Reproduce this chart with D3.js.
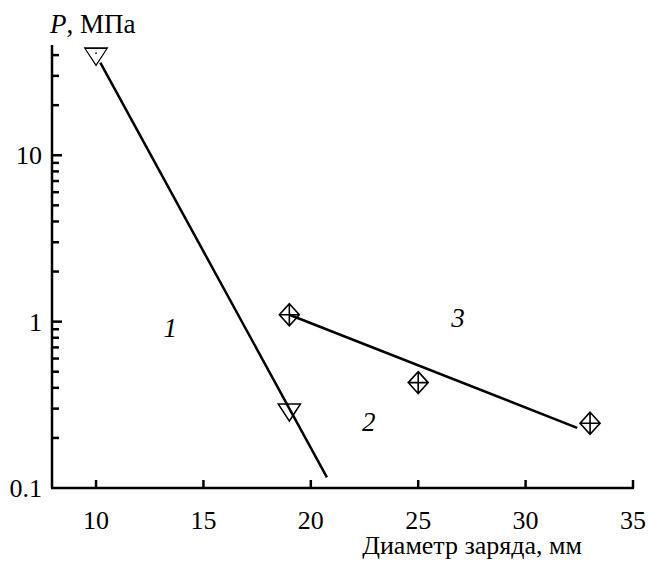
<!DOCTYPE html>
<html>
<head>
<meta charset="utf-8">
<script src="https://cdn.jsdelivr.net/npm/d3@7"></script>
<style>
  body { margin: 0; background: #fff; }
</style>
</head>
<body>
<div id="chart"></div>
<script>
// данные
const xTicks = [10, 15, 20, 25, 30, 35];
const yMajor = [0.1, 1, 10];
const yMinor = [0.2, 0.3, 0.4, 0.5, 0.6, 0.7, 0.8, 0.9, 2, 3, 4, 5, 6, 7, 8, 9, 20, 30, 40];

// серия 1 (треугольники)
const s1X = [10, 19];
const s1Y = [40, 0.29];
const line1X = [10.2, 20.75];
const line1Y = [36, 0.116];

// серия 3 (ромбы)
const s3X = [19, 25, 33];
const s3Y = [1.1, 0.43, 0.245];
const line3X = [19, 32.4];
const line3Y = [1.1, 0.23];

const curveLabels = [
    { text: "1", x: 13.45, y: 0.81 },
    { text: "2", x: 22.7, y: 0.22 },
    { text: "3", x: 26.85, y: 0.93 }
];

const FONT = "Liberation Serif";

function drawChart() {
    d3.select("#chart").selectAll("*").remove();

    let width = 648, height = 561;
    let margin = { top: 45, right: 15, bottom: 73, left: 52 };

    let svg = d3.select("#chart").append("svg")
        .attr("width", width)
        .attr("height", height);

    let x = d3.scaleLinear().domain([7.95, 35]).range([margin.left, 633]);
    let y = d3.scaleLog().domain([0.1, 46]).range([488, margin.top]);

    // оси
    svg.append("line")
        .attr("x1", margin.left).attr("x2", margin.left)
        .attr("y1", y(46)).attr("y2", 488)
        .attr("stroke", "#000").attr("stroke-width", 2.5);
    svg.append("line")
        .attr("x1", margin.left - 1).attr("x2", x(35) + 1)
        .attr("y1", 488).attr("y2", 488)
        .attr("stroke", "#000").attr("stroke-width", 2.5);

    // деления по X
    svg.selectAll(".xtick").data(xTicks).enter().append("line")
        .attr("x1", d => x(d)).attr("x2", d => x(d))
        .attr("y1", 488).attr("y2", 480)
        .attr("stroke", "#000").attr("stroke-width", 2.5);
    svg.selectAll(".xlab").data(xTicks).enter().append("text")
        .attr("x", d => x(d)).attr("y", 529)
        .attr("text-anchor", "middle")
        .attr("font-family", FONT)
        .attr("font-size", 26)
        .text(d => d);

    // деления по Y
    svg.selectAll(".ymaj").data(yMajor.slice(1)).enter().append("line")
        .attr("x1", margin.left).attr("x2", margin.left + 10)
        .attr("y1", d => y(d)).attr("y2", d => y(d))
        .attr("stroke", "#000").attr("stroke-width", 2.5);
    svg.selectAll(".ymin").data(yMinor).enter().append("line")
        .attr("x1", margin.left).attr("x2", margin.left + 7)
        .attr("y1", d => y(d)).attr("y2", d => y(d))
        .attr("stroke", "#000").attr("stroke-width", 2.5);
    svg.selectAll(".ylab").data(yMajor).enter().append("text")
        .attr("x", 42).attr("y", d => y(d) + 9)
        .attr("text-anchor", "end")
        .attr("font-family", FONT)
        .attr("font-size", 26)
        .text(d => d);

    // подписи осей
    let yt = svg.append("text").attr("x", 50).attr("y", 33)
        .attr("font-family", FONT).attr("font-size", 27);
    yt.append("tspan").attr("font-style", "italic").text("P");
    yt.append("tspan").text(", МПа");

    svg.append("text")
        .attr("x", 582).attr("y", 554)
        .attr("text-anchor", "end")
        .attr("font-family", FONT)
        .attr("font-size", 26)
        .text("Диаметр заряда, мм");

    // линии
    let line = d3.line().x(d => x(d[0])).y(d => y(d[1]));
    svg.append("path")
        .datum(line1X.map((v, i) => [v, line1Y[i]]))
        .attr("d", line).attr("fill", "none")
        .attr("stroke", "#000").attr("stroke-width", 2.5);
    svg.append("path")
        .datum(line3X.map((v, i) => [v, line3Y[i]]))
        .attr("d", line).attr("fill", "none")
        .attr("stroke", "#000").attr("stroke-width", 2.5);

    // треугольники
    let tri = svg.selectAll(".tri").data(s1X.map((v, i) => [v, s1Y[i]])).enter().append("g")
        .attr("transform", d => `translate(${x(d[0])},${y(d[1])})`);
    tri.append("path")
        .attr("d", "M-11,-7 L11,-7 L0,10 Z")
        .attr("fill", "none").attr("stroke", "#000").attr("stroke-width", 1.6);
    tri.filter((d, i) => i === 0).append("path")
        .attr("d", "M-10,-6 L10,-6 L0,9 Z").attr("fill", "#fff");
    tri.filter((d, i) => i === 0).append("circle")
        .attr("r", 0.9).attr("cy", -2).attr("fill", "#000");

    // ромбы с крестом
    let dia = svg.selectAll(".dia").data(s3X.map((v, i) => [v, s3Y[i]])).enter().append("g")
        .attr("transform", d => `translate(${x(d[0])},${y(d[1])})`);
    dia.append("path")
        .attr("d", "M0,-11 L10,0 L0,11 L-10,0 Z M0,-11 L0,11 M-10,0 L10,0")
        .attr("fill", "none").attr("stroke", "#000").attr("stroke-width", 1.6);

    // номера кривых
    svg.selectAll(".clab").data(curveLabels).enter().append("text")
        .attr("x", d => x(d.x)).attr("y", d => y(d.y))
        .attr("text-anchor", "middle")
        .attr("font-family", FONT)
        .attr("font-size", 27)
        .attr("font-style", "italic")
        .text(d => d.text);
}

drawChart();
</script>
</body>
</html>
